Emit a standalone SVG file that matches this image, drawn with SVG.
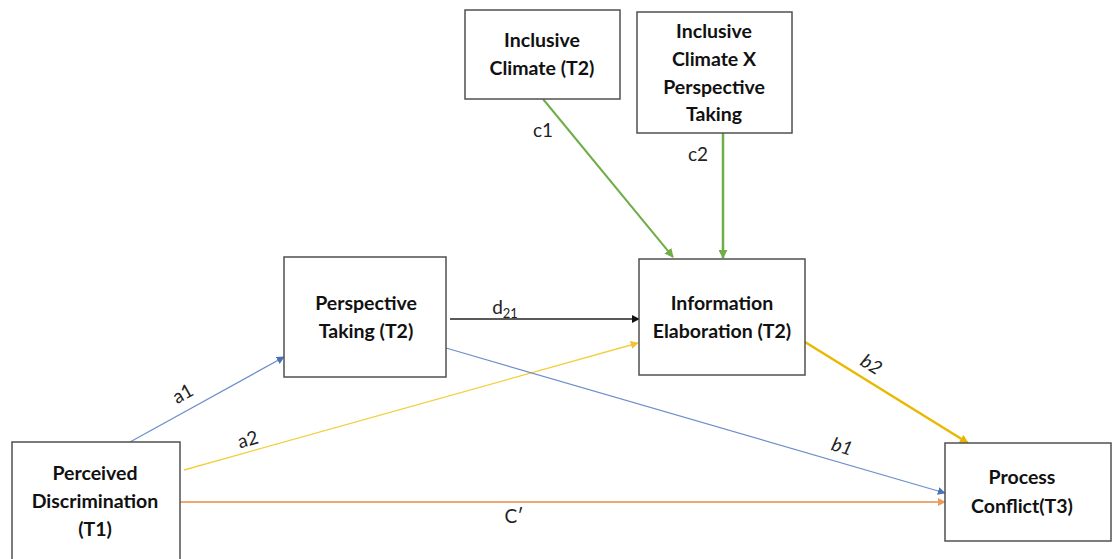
<svg xmlns="http://www.w3.org/2000/svg" width="1113" height="559" viewBox="0 0 1113 559">
<style>
.box{fill:#fff;stroke:#505050;stroke-width:1.5}
.nt{font-family:Lato,"Open Sans","Liberation Sans",sans-serif;font-weight:bold;font-size:19.5px;fill:#111;text-anchor:middle}
.lb{font-family:Lato,"Open Sans","Liberation Sans",sans-serif;font-size:19px;fill:#222;text-anchor:middle}
.it{font-style:italic}
</style>
<defs>
<marker id="mg" viewBox="0 0 10 10" refX="9" refY="5" markerWidth="9" markerHeight="9" markerUnits="userSpaceOnUse" orient="auto"><path d="M0,0L10,5L0,10z" fill="#70AD47"/></marker>
<marker id="mb" viewBox="0 0 10 10" refX="9" refY="5" markerWidth="8" markerHeight="8" markerUnits="userSpaceOnUse" orient="auto"><path d="M0,0L10,5L0,10z" fill="#4A72B8"/></marker>
<marker id="my" viewBox="0 0 10 10" refX="9" refY="5" markerWidth="8" markerHeight="8" markerUnits="userSpaceOnUse" orient="auto"><path d="M0,0L10,5L0,10z" fill="#F2C230"/></marker>
<marker id="my2" viewBox="0 0 10 10" refX="9" refY="5" markerWidth="9" markerHeight="9" markerUnits="userSpaceOnUse" orient="auto"><path d="M0,0L10,5L0,10z" fill="#E8B500"/></marker>
<marker id="mo" viewBox="0 0 10 10" refX="9" refY="5" markerWidth="8" markerHeight="8" markerUnits="userSpaceOnUse" orient="auto"><path d="M0,0L10,5L0,10z" fill="#ED9B5C"/></marker>
<marker id="mk" viewBox="0 0 10 10" refX="9" refY="5" markerWidth="8" markerHeight="8" markerUnits="userSpaceOnUse" orient="auto"><path d="M0,0L10,5L0,10z" fill="#111"/></marker>
</defs>
<rect width="1113" height="559" fill="#fff"/>
<g id="connectors" fill="none">
<line x1="543" y1="99" x2="673" y2="257" stroke="#70AD47" stroke-width="2" marker-end="url(#mg)"/>
<line x1="723" y1="133" x2="723" y2="258" stroke="#70AD47" stroke-width="2.5" marker-end="url(#mg)"/>
<line x1="130" y1="442" x2="284" y2="357" stroke="#6D8FC8" stroke-width="1.2" marker-end="url(#mb)"/>
<line x1="184" y1="470" x2="638" y2="343" stroke="#F2CF3A" stroke-width="1.3" marker-end="url(#my)"/>
<line x1="450" y1="319" x2="639" y2="319" stroke="#222" stroke-width="1.3" marker-end="url(#mk)"/>
<line x1="446" y1="348" x2="945" y2="493" stroke="#6D8FC8" stroke-width="1.2" marker-end="url(#mb)"/>
<line x1="180" y1="502" x2="945" y2="502" stroke="#F0A870" stroke-width="1.8" marker-end="url(#mo)"/>
<line x1="805" y1="342" x2="968" y2="443" stroke="#EBB800" stroke-width="2.5" marker-end="url(#my2)"/>
<text class="lb" x="543" y="137">c1</text>
<text class="lb" x="698" y="161">c2</text>
<text class="lb" transform="translate(183,394) rotate(-29)" y="6">a1</text>
<text class="lb" transform="translate(248,440) rotate(-16)" y="6">a2</text>
<text class="lb" x="505" y="314">d<tspan font-size="13" dy="4">21</tspan></text>
<text class="lb it" transform="translate(842,447) rotate(17)" y="6">b1</text>
<text class="lb it" transform="translate(871,365) rotate(32)" y="6">b2</text>
<text class="lb" x="514" y="523">C′</text>
</g>
<g id="n-ic"><rect class="box" x="465" y="10" width="155" height="89"/><text class="nt" x="542" y="47">Inclusive</text><text class="nt" x="542" y="75">Climate (T2)</text></g>
<g id="n-icx"><rect class="box" x="637" y="12" width="155" height="121"/><text class="nt" x="714" y="38">Inclusive</text><text class="nt" x="714" y="66">Climate X</text><text class="nt" x="714" y="94">Perspective</text><text class="nt" x="714" y="121">Taking</text></g>
<g id="n-pt"><rect class="box" x="284" y="257" width="162" height="120"/><text class="nt" x="366" y="310">Perspective</text><text class="nt" x="366" y="338">Taking (T2)</text></g>
<g id="n-ie"><rect class="box" x="639" y="259" width="166" height="116"/><text class="nt" x="722" y="310">Information</text><text class="nt" x="722" y="338">Elaboration (T2)</text></g>
<g id="n-pd"><rect class="box" x="12" y="442" width="168" height="130"/><text class="nt" x="95" y="480">Perceived</text><text class="nt" x="95" y="508">Discrimination</text><text class="nt" x="95" y="536">(T1)</text></g>
<g id="n-pc"><rect class="box" x="945" y="443" width="166" height="98"/><text class="nt" x="1022" y="484">Process</text><text class="nt" x="1022" y="513">Conflict(T3)</text></g>
</svg>
